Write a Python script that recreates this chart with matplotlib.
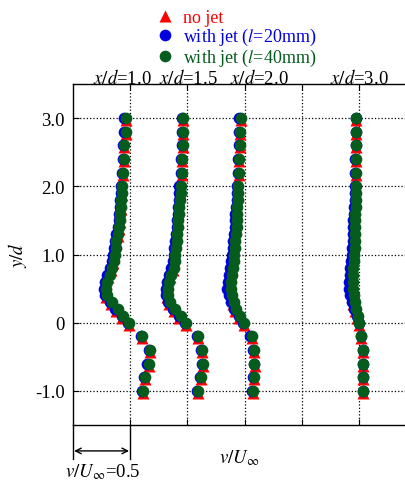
import numpy as np
import matplotlib.pyplot as plt

plt.rcParams['font.family'] = ['Liberation Serif', 'DejaVu Serif']
plt.rcParams['mathtext.fontset'] = 'stix'

# DATA: y/d positions shared by every profile
y_d = [3.0, 2.8, 2.6, 2.4, 2.2, 2.0, 1.9, 1.8, 1.7, 1.6, 1.5, 1.4, 1.3, 1.2, 1.1,
       1.0, 0.9, 0.8, 0.7, 0.6, 0.5, 0.4, 0.3, 0.2, 0.1, 0.0,
       -0.2, -0.4, -0.6, -0.8, -1.0]

x_d_labels = ['1.0', '1.5', '2.0', '3.0']
base = [0.5, 1.0, 1.5, 2.5]   # where each profile's v/U=0 sits on the axis

# v/U_inf, x/d = 1.0
nojet_10 = [-0.04, -0.04, -0.05, -0.05, -0.06, -0.07, -0.07, -0.08, -0.08, -0.09, -0.09,
            -0.10, -0.11, -0.12, -0.13, -0.14, -0.15, -0.17, -0.19, -0.21, -0.22, -0.21,
            -0.17, -0.12, -0.07, -0.01, 0.10, 0.17, 0.16, 0.13, 0.11]
jet20_10 = [-0.05, -0.05, -0.06, -0.06, -0.07, -0.08, -0.08, -0.09, -0.09, -0.10, -0.10,
            -0.11, -0.12, -0.13, -0.14, -0.15, -0.16, -0.18, -0.20, -0.22, -0.23, -0.22,
            -0.18, -0.13, -0.07, -0.02, 0.09, 0.16, 0.15, 0.12, 0.10]
jet40_10 = [-0.04, -0.04, -0.05, -0.05, -0.06, -0.07, -0.07, -0.08, -0.08, -0.09, -0.09,
            -0.10, -0.11, -0.12, -0.12, -0.13, -0.14, -0.16, -0.18, -0.20, -0.21, -0.20,
            -0.16, -0.11, -0.06, -0.01, 0.10, 0.17, 0.16, 0.13, 0.11]

# x/d = 1.5
nojet_15 = [-0.035, -0.035, -0.04, -0.045, -0.05, -0.06, -0.065, -0.07, -0.075, -0.08, -0.085,
            -0.09, -0.095, -0.10, -0.105, -0.11, -0.12, -0.13, -0.15, -0.17, -0.18, -0.18,
            -0.16, -0.12, -0.07, -0.01, 0.09, 0.13, 0.14, 0.12, 0.09]
jet20_15 = [-0.045, -0.045, -0.05, -0.055, -0.06, -0.07, -0.07, -0.075, -0.08, -0.085, -0.09,
            -0.095, -0.10, -0.11, -0.115, -0.12, -0.13, -0.14, -0.16, -0.18, -0.19, -0.19,
            -0.17, -0.13, -0.07, -0.02, 0.08, 0.12, 0.13, 0.11, 0.08]
jet40_15 = [-0.035, -0.035, -0.04, -0.045, -0.05, -0.06, -0.06, -0.065, -0.07, -0.075, -0.08,
            -0.085, -0.09, -0.095, -0.10, -0.105, -0.11, -0.12, -0.14, -0.16, -0.17, -0.17,
            -0.15, -0.11, -0.06, -0.01, 0.09, 0.13, 0.14, 0.12, 0.09]

# x/d = 2.0
nojet_20 = [-0.035, -0.04, -0.04, -0.045, -0.05, -0.06, -0.06, -0.065, -0.07, -0.07, -0.075,
            -0.075, -0.08, -0.085, -0.09, -0.095, -0.10, -0.11, -0.12, -0.125, -0.125, -0.12,
            -0.105, -0.08, -0.045, -0.01, 0.06, 0.08, 0.09, 0.085, 0.075]
jet20_20 = [-0.045, -0.05, -0.05, -0.055, -0.055, -0.065, -0.07, -0.07, -0.075, -0.08, -0.085,
            -0.085, -0.09, -0.10, -0.105, -0.11, -0.115, -0.125, -0.135, -0.145, -0.15, -0.14,
            -0.12, -0.09, -0.05, -0.015, 0.05, 0.075, 0.08, 0.075, 0.065]
jet40_20 = [-0.035, -0.04, -0.04, -0.045, -0.045, -0.055, -0.06, -0.06, -0.065, -0.065, -0.07,
            -0.07, -0.075, -0.08, -0.085, -0.09, -0.095, -0.10, -0.11, -0.115, -0.115, -0.11,
            -0.095, -0.075, -0.04, -0.01, 0.06, 0.08, 0.085, 0.08, 0.07]

# x/d = 3.0
nojet_30 = [-0.025, -0.025, -0.025, -0.03, -0.03, -0.035, -0.035, -0.035, -0.035, -0.04, -0.04,
            -0.04, -0.045, -0.045, -0.05, -0.05, -0.055, -0.06, -0.06, -0.065, -0.065, -0.06,
            -0.05, -0.035, -0.015, 0.0, 0.02, 0.035, 0.035, 0.035, 0.035]
jet20_30 = [-0.03, -0.03, -0.03, -0.035, -0.035, -0.04, -0.04, -0.04, -0.045, -0.045, -0.05,
            -0.05, -0.055, -0.055, -0.06, -0.065, -0.07, -0.075, -0.08, -0.085, -0.088, -0.08,
            -0.065, -0.045, -0.02, -0.005, 0.015, 0.03, 0.03, 0.03, 0.03]
jet40_30 = [-0.025, -0.025, -0.025, -0.025, -0.03, -0.03, -0.03, -0.03, -0.03, -0.035, -0.035,
            -0.035, -0.04, -0.04, -0.04, -0.045, -0.045, -0.05, -0.05, -0.05, -0.05, -0.045,
            -0.035, -0.025, -0.01, 0.0, 0.02, 0.035, 0.035, 0.035, 0.035]

nojet = [nojet_10, nojet_15, nojet_20, nojet_30]
jet20 = [jet20_10, jet20_15, jet20_20, jet20_30]
jet40 = [jet40_10, jet40_15, jet40_20, jet40_30]

label_x = [0.43, 1.01, 1.63, 2.5]

RED = '#ff0000'
BLUE = '#0000e0'
GREEN = '#055c1c'
FS = 13.5

fig = plt.figure(figsize=(4.06, 4.85), dpi=100)
ax = fig.add_axes([73/406, 59/485, 1 - 73/406, 341/485])

y = np.array(y_d)
for i in range(4):
    h1, = ax.plot(base[i] + np.array(nojet[i]), y - 0.03, '^', color=RED, ms=8,
                  mec='none', zorder=3)
    h2, = ax.plot(base[i] + np.array(jet20[i]), y, 'o', color=BLUE, ms=8.4,
                  mec='none', zorder=4)
    h3, = ax.plot(base[i] + np.array(jet40[i]), y, 'o', color=GREEN, ms=8.4,
                  mec='none', zorder=5)
    ax.text(label_x[i], 3.515, '$x/d$=' + x_d_labels[i], ha='center', va='baseline',
            fontsize=FS)

ax.set_xlim(0, 2.91)
ax.set_ylim(-1.5, 3.5)
ax.set_xticks([0.5, 1.0, 1.5, 2.0, 2.5])
ax.set_xticklabels([])
ax.set_yticks([-1, 0, 1, 2, 3])
ax.set_yticklabels(['-1.0', '0', '1.0', '2.0', '3.0'], fontsize=FS)
ax.tick_params(direction='in', length=4, width=0.8, top=True, pad=6)
ax.grid(True, linestyle=':', color='black', linewidth=0.9)
ax.spines['right'].set_visible(False)
for s in ['left', 'bottom', 'top']:
    ax.spines[s].set_linewidth(1.0)

ax.set_ylabel('$y/d$', fontsize=FS, labelpad=4)

# scale bar below the axes
ax.plot([0, 0], [-1.5, -2.0], color='black', lw=1.0, clip_on=False)
ax.plot([0.5, 0.5], [-1.5, -2.0], color='black', lw=1.0, clip_on=False)
ax.annotate('', xy=(0.01, -1.88), xytext=(0.49, -1.88),
            arrowprops=dict(arrowstyle='<->', color='black', lw=1.0,
                            shrinkA=0, shrinkB=0), annotation_clip=False)
ax.text(0.26, -2.18, r'$v/U_\infty$=0.5', ha='center', va='center', fontsize=FS)
ax.text(1.45, -1.97, r'$v/U_\infty$', ha='center', va='center', fontsize=FS)

fig.legend([h1, h2, h3],
           ['no jet', 'with jet ($l$=20mm)', 'with jet ($l$=40mm)'],
           loc='upper left', bbox_to_anchor=(148/406, 1 - 1/485), frameon=False,
           fontsize=13, handlelength=0.85, handletextpad=0.6, labelspacing=0.0,
           borderpad=0, labelcolor=[RED, BLUE, GREEN])

plt.savefig('out.png', dpi=100)
